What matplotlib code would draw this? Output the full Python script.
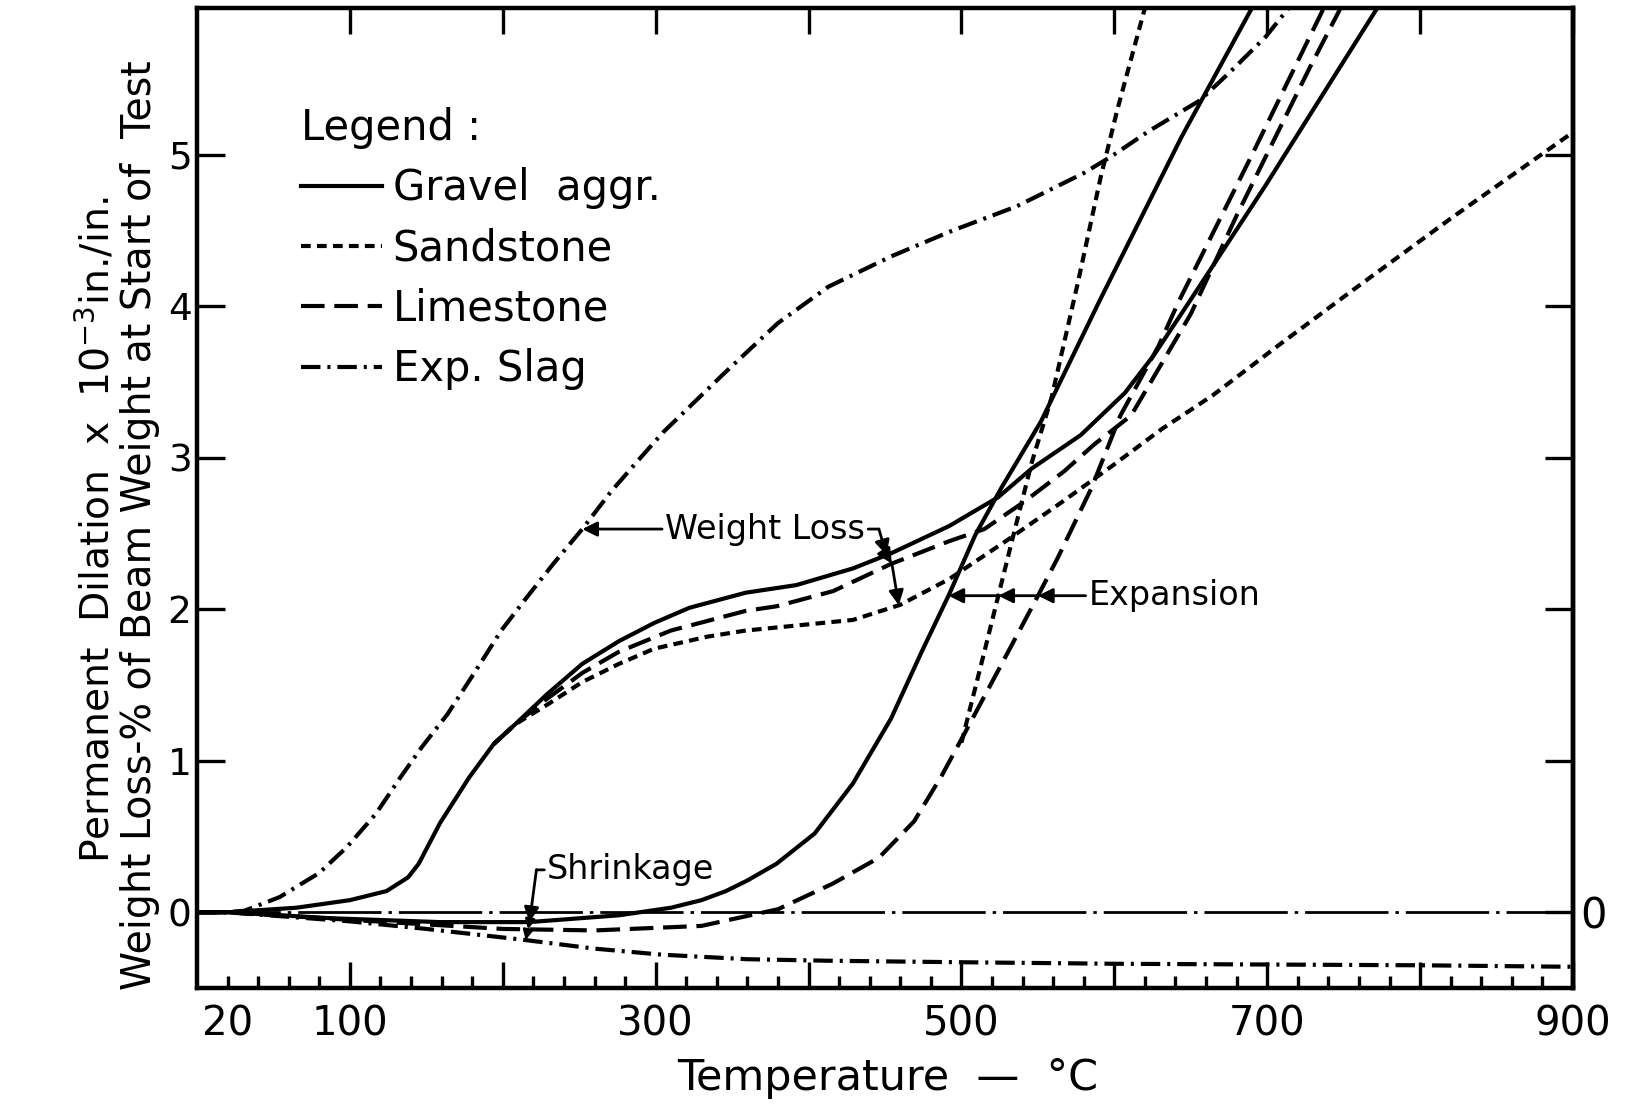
import numpy as np
import matplotlib
matplotlib.use("Agg")
import matplotlib.pyplot as plt

plt.rcParams['font.family'] = ['DejaVu Sans']
plt.rcParams['lines.scale_dashes'] = False

# ---------------- data (temperature in deg C, value in units of the y axis) ----------------
gravel_wl_T = [0, 20, 65, 100, 124, 138, 145, 159, 178, 194, 208, 229, 252, 276, 299, 322, 359, 392,
               429, 454, 492, 524, 546, 578, 607, 626, 649, 699, 742, 772]
gravel_wl_Y = [0, 0, 0.03, 0.08, 0.14, 0.23, 0.32, 0.59, 0.89, 1.11, 1.24, 1.44, 1.64, 1.79, 1.91, 2.01,
               2.11, 2.16, 2.27, 2.37, 2.55, 2.74, 2.93, 3.15, 3.43, 3.68, 4.03, 4.80, 5.49, 5.97]

sandstone_wl_T = [194, 208, 229, 252, 276, 299, 334, 359, 379, 429, 460, 492, 529, 566, 599, 631, 664,
                  707, 755, 820, 900]
sandstone_wl_Y = [1.11, 1.24, 1.37, 1.52, 1.64, 1.74, 1.82, 1.86, 1.88, 1.93, 2.03, 2.20, 2.45, 2.71,
                  2.95, 3.19, 3.41, 3.74, 4.10, 4.58, 5.15]

limestone_wl_T = [194, 208, 229, 252, 276, 310, 359, 379, 416, 454, 492, 515, 541, 567, 587, 611, 650,
                  680, 727, 748]
limestone_wl_Y = [1.11, 1.24, 1.41, 1.58, 1.72, 1.86, 1.99, 2.02, 2.12, 2.30, 2.45, 2.53, 2.71, 2.91,
                  3.09, 3.28, 3.95, 4.60, 5.56, 5.97]

slag_wl_T = [0, 20, 31, 54, 80, 98, 117, 133, 147, 164, 182, 199, 215, 233, 252, 271, 290, 305, 345,
             380, 413, 454, 494, 536, 580, 598, 623, 656, 677, 699, 714]
slag_wl_Y = [0, 0, 0.01, 0.10, 0.26, 0.43, 0.65, 0.89, 1.09, 1.31, 1.59, 1.86, 2.07, 2.30, 2.53, 2.78,
             3.00, 3.17, 3.56, 3.89, 4.13, 4.33, 4.50, 4.66, 4.88, 4.99, 5.16, 5.36, 5.56, 5.78, 5.97]

gravel_exp_T = [0, 20, 89, 159, 217, 276, 310, 330, 346, 360, 379, 404, 429, 454, 474, 492, 509, 526,
                552, 590, 644, 690]
gravel_exp_Y = [0, 0, -0.04, -0.065, -0.065, -0.02, 0.03, 0.08, 0.14, 0.21, 0.32, 0.52, 0.85, 1.28,
                1.72, 2.10, 2.49, 2.80, 3.24, 4.03, 5.12, 5.97]

sandstone_exp_T = [500, 515, 533, 546, 559, 576, 591, 602, 620]
sandstone_exp_Y = [1.12, 1.72, 2.45, 2.97, 3.40, 4.15, 4.85, 5.30, 5.97]

limestone_exp_T = [0, 20, 100, 200, 260, 330, 380, 416, 446, 469, 487, 502, 520, 548, 563, 585, 604,
                   629, 642, 690, 737]
limestone_exp_Y = [0, 0, -0.05, -0.11, -0.12, -0.09, 0.02, 0.19, 0.36, 0.60, 0.90, 1.18, 1.52, 2.05,
                   2.34, 2.80, 3.28, 3.74, 4.03, 5.00, 5.97]

slag_exp_T = [0, 20, 100, 150, 212, 260, 304, 360, 413, 500, 600, 700, 800, 900]
slag_exp_Y = [0, 0, -0.06, -0.11, -0.18, -0.24, -0.28, -0.31, -0.32, -0.33, -0.34, -0.345, -0.35, -0.36]

legend_labels = ["Gravel  aggr.", "Sandstone", "Limestone", "Exp. Slag"]
x_major = [100, 200, 300, 400, 500, 600, 700, 800, 900]
x_major_labels = ["100", "", "300", "", "500", "", "700", "", "900"]
x_minor_labelled = {20: "20"}
y_ticks = [0, 1, 2, 3, 4, 5]

# ---------------- styles ----------------
LW = 3.0
sty = {
    "gravel": dict(color="black", lw=LW, linestyle="-"),
    "sandstone": dict(color="black", lw=LW, linestyle=(0, (7, 4.5))),
    "limestone": dict(color="black", lw=LW, linestyle=(0, (17, 7))),
    "slag": dict(color="black", lw=LW, linestyle=(0, (14, 5, 2.2, 5))),
}

fig = plt.figure(figsize=(16.29, 11.09), dpi=100)
ax = fig.add_axes([197 / 1629, 1 - 988 / 1109, 1376 / 1629, 980 / 1109])
ax.set_xlim(0, 900)
ax.set_ylim(-0.5, 5.97)

# zero reference line
ax.axhline(0, color="black", lw=2.0, linestyle=(0, (60, 5, 2.5, 5)), zorder=1)

h_g, = ax.plot(gravel_wl_T, gravel_wl_Y, **sty["gravel"], label=legend_labels[0])
ax.plot(gravel_exp_T, gravel_exp_Y, **sty["gravel"])
h_s, = ax.plot(sandstone_wl_T, sandstone_wl_Y, **sty["sandstone"], label=legend_labels[1])
ax.plot(sandstone_exp_T, sandstone_exp_Y, **sty["sandstone"])
h_l, = ax.plot(limestone_wl_T, limestone_wl_Y, **sty["limestone"], label=legend_labels[2])
ax.plot(limestone_exp_T, limestone_exp_Y, **sty["limestone"])
h_x, = ax.plot(slag_wl_T, slag_wl_Y, **sty["slag"], label=legend_labels[3])
ax.plot(slag_exp_T, slag_exp_Y, **sty["slag"])

# ---------------- axes styling ----------------
for s in ax.spines.values():
    s.set_linewidth(3.2)
ax.set_xticks(x_major)
ax.set_xticklabels(x_major_labels)
minor = [t for t in range(0, 901, 20) if t % 100 != 0]
ax.set_xticks(minor, minor=True)
ax.set_xticklabels([x_minor_labelled.get(t, "") for t in minor], minor=True)
ax.tick_params(axis="x", which="major", direction="in", length=19, width=2.4, top=True,
               labelsize=29, pad=12)
ax.tick_params(axis="x", which="minor", direction="in", length=9, width=2.4, top=False,
               labelsize=29, pad=12)
ax.set_yticks(y_ticks)
ax.tick_params(axis="y", which="major", direction="in", length=20, width=2.4, right=True,
               labelsize=27, pad=4)

sec = ax.secondary_yaxis("right")
sec.set_yticks([0])
sec.tick_params(length=0, labelsize=30, pad=5)
sec.spines["right"].set_linewidth(3.2)

ax.set_xlabel("Temperature  —  °C", fontsize=31)
ax.xaxis.set_label_coords(0.502, -0.07)

# two-line y label, each line fitted to the span it covers in the figure
t1 = fig.text(96 / 1629, 1 - 530 / 1109, "Permanent  Dilation  x  10$^{-3}$in./in.", rotation=90,
              ha="center", va="center", fontsize=29)
t2 = fig.text(140 / 1629, 1 - 525 / 1109, "Weight Loss-% of Beam Weight at Start of  Test",
              rotation=90, ha="center", va="center", fontsize=29)
fig.canvas.draw()
rend = fig.canvas.get_renderer()
for t, span in ((t1, 666.0), (t2, 930.0)):
    h = t.get_window_extent(rend).height
    t.set_fontsize(t.get_fontsize() * span / h)

# ---------------- legend ----------------
leg = ax.legend(handles=[h_g, h_s, h_l, h_x], title="Legend :", loc="upper left",
                bbox_to_anchor=(0.0756, 0.899), frameon=False, fontsize=30, title_fontsize=30,
                handlelength=1.95, handletextpad=0.25, labelspacing=0.44, borderpad=0,
                borderaxespad=0, alignment="left")

# ---------------- annotations ----------------
ak = dict(arrowstyle="-|>", color="black", lw=2.0, shrinkA=0, shrinkB=0, mutation_scale=22)
an = dict(arrowstyle="-", color="black", lw=2.0, shrinkA=0, shrinkB=0)

# Weight loss (slag)
t_tip = 252
y_wl = float(np.interp(t_tip, slag_wl_T, slag_wl_Y))
ax.annotate("Weight Loss", xy=(t_tip, y_wl), xytext=(306, y_wl), fontsize=24, va="center", ha="left",
            arrowprops=dict(ak, relpos=(0, 0.5)))
# Weight loss bracket to the three aggregate curves
p0 = (446, y_wl)
p1 = (451, float(np.interp(451, gravel_wl_T, gravel_wl_Y)))
p2 = (454.5, float(np.interp(454.5, limestone_wl_T, limestone_wl_Y)))
p3 = (459, float(np.interp(459, sandstone_wl_T, sandstone_wl_Y)))
ax.annotate("", xy=p0, xytext=(439, y_wl), arrowprops=an)
ax.annotate("", xy=p1, xytext=p0, arrowprops=ak)
ax.annotate("", xy=p2, xytext=p1, arrowprops=ak)
ax.annotate("", xy=p3, xytext=p2, arrowprops=ak)

# Expansion
y_ex = 2.09
t_g = float(np.interp(y_ex, gravel_exp_Y[5:], gravel_exp_T[5:]))
t_s = float(np.interp(y_ex, sandstone_exp_Y, sandstone_exp_T))
t_l = float(np.interp(y_ex, limestone_exp_Y[5:], limestone_exp_T[5:]))
ax.annotate("Expansion", xy=(t_l, y_ex), xytext=(583, y_ex), fontsize=24, va="center", ha="left",
            arrowprops=dict(ak, relpos=(0, 0.5)))
ax.annotate("", xy=(t_s, y_ex), xytext=(t_l, y_ex), arrowprops=ak)
ax.annotate("", xy=(t_g, y_ex), xytext=(t_s, y_ex), arrowprops=ak)

# Shrinkage
y_sh = 0.28
q0 = (222, y_sh)
q1 = (217.5, float(np.interp(217.5, gravel_exp_T, gravel_exp_Y)))
q2 = (216.5, float(np.interp(216.5, limestone_exp_T, limestone_exp_Y)))
q3 = (215, float(np.interp(215, slag_exp_T, slag_exp_Y)))
ax.annotate("Shrinkage", xy=q0, xytext=(229, y_sh), fontsize=24, va="center", ha="left",
            arrowprops=dict(an, relpos=(0, 0.5)))
ax.annotate("", xy=q1, xytext=q0, arrowprops=ak)
ax.annotate("", xy=q2, xytext=q1, arrowprops=dict(ak, mutation_scale=14))
ax.annotate("", xy=q3, xytext=q2, arrowprops=dict(ak, mutation_scale=14))

fig.savefig("out.png", dpi=100, facecolor="white")
